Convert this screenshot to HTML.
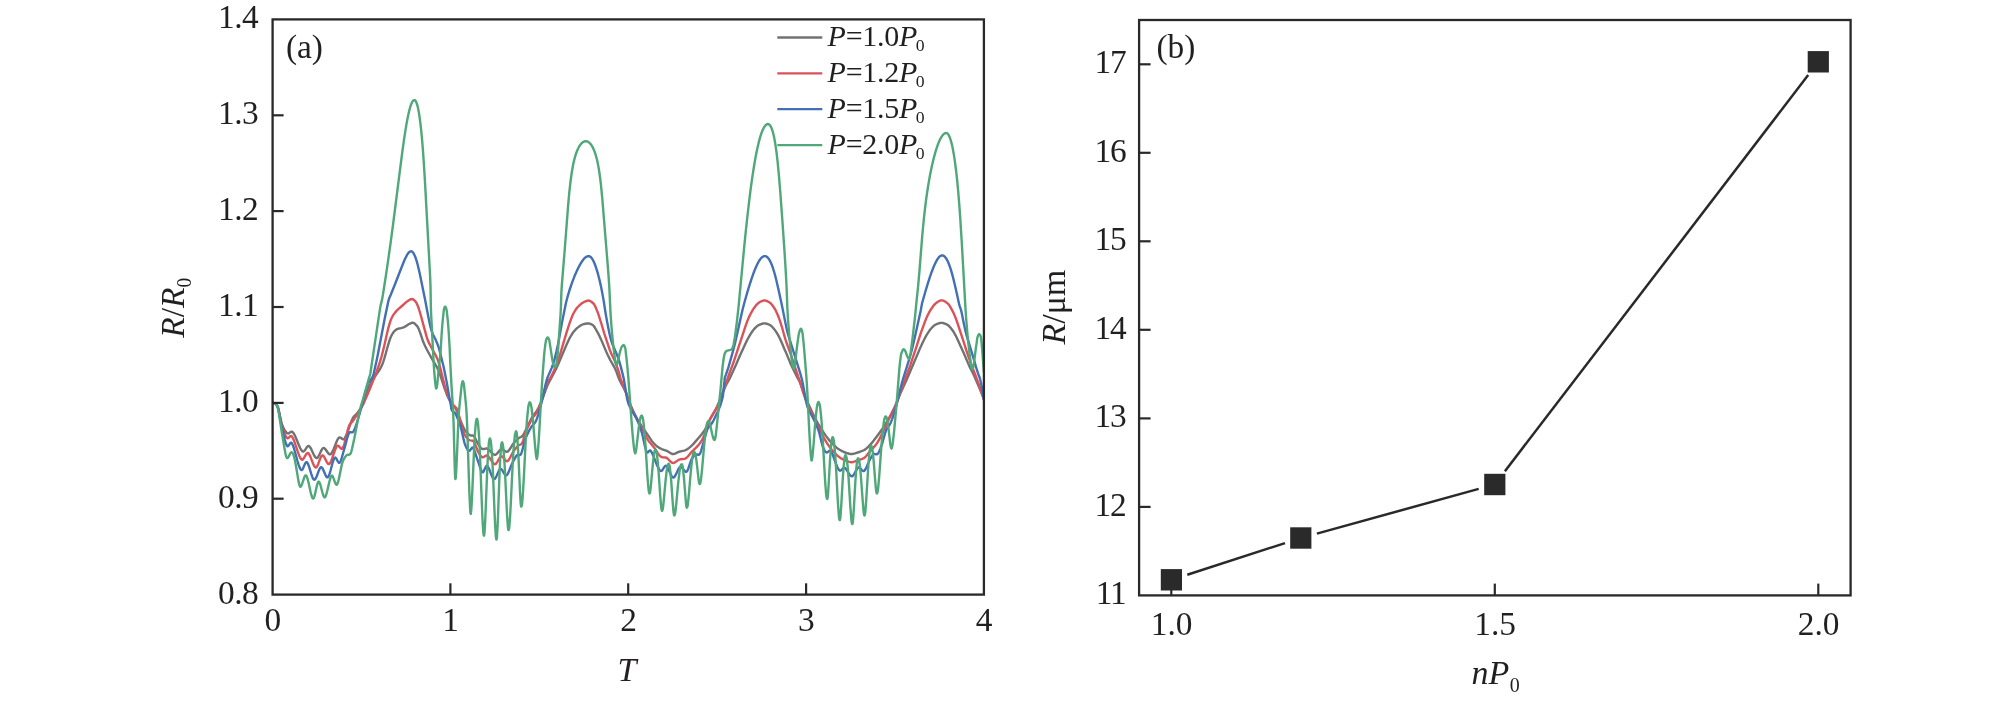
<!DOCTYPE html>
<html><head><meta charset="utf-8"><title>figure</title>
<style>html,body{margin:0;padding:0;background:#fff;}svg{display:block;opacity:0.9999;will-change:transform;}text{font-family:"Liberation Serif",serif;fill:#221f20;}.i{font-style:italic;}</style>
</head><body>
<svg width="2008" height="701" viewBox="0 0 2008 701">
<rect x="0" y="0" width="2008" height="701" fill="#ffffff"/>
<clipPath id="ca"><rect x="272.6" y="19.4" width="711.3" height="575.2"/></clipPath>
<g clip-path="url(#ca)" fill="none" stroke-width="2.4" stroke-linejoin="round" stroke-linecap="round">
<path d="M272.60,402.90l0.5,0.02l0.49,0.11l1.39,0.55l0.43,0.26l0.56,0.49l0.65,0.76l0.69,1.04l0.35,0.67l0.5,1.41l0.51,1.93l2.15,10.02l0.78,3.16l0.4,1.18l1.21,2.75l0.99,2.02l0.86,1.52l0.7,1.04l0.83,0.93l0.59,0.47l0.69,0.27l0.49,-0.03l0.47,-0.19l1.85,-1.27l0.69,-0.29l0.24,-0.04l0.49,0.09l0.43,0.25l0.54,0.52l0.46,0.6l0.54,0.84l1.14,2.22l1.18,2.76l2.41,6.03l1.22,2.74l1.09,1.98l0.58,0.81l0.51,0.55l0.4,0.3l0.46,0.18l0.49,-0.07l0.42,-0.26l0.84,-0.92l1.8,-2.71l0.6,-0.8l0.74,-0.66l0.47,-0.17l0.25,0.01l0.45,0.2l0.39,0.31l0.48,0.57l0.42,0.63l0.95,1.75l2.09,4.55l0.9,1.78l0.96,1.46l0.53,0.53l0.43,0.25l0.49,0.07l0.46,-0.2l0.38,-0.32l0.46,-0.59l1,-1.73l1.91,-4.08l0.82,-1.54l0.72,-1.02l0.36,-0.34l0.44,-0.24l0.5,-0.03l0.24,0.07l0.43,0.24l0.56,0.5l0.94,1.17l1.97,2.89l0.47,0.58l0.54,0.53l0.41,0.28l0.47,0.16l0.25,0.01l0.47,-0.16l0.58,-0.47l0.47,-0.59l0.99,-1.73l1.11,-2.51l3.05,-7.67l0.99,-2.02l0.84,-1.24l0.35,-0.35l0.43,-0.26l0.24,-0.05l0.49,0.08l0.66,0.36l1.56,1.24l0.45,0.23l0.48,0.1l0.25,-0.04l0.43,-0.24l0.51,-0.55l0.43,-0.62l0.95,-1.76l0.99,-2.29l1.06,-2.81l3.1,-8.71l0.94,-2.32l0.86,-1.81l0.63,-1.08l0.6,-0.79l0.52,-0.54l1.86,-1.67l2.49,-3.13l2.11,-3.1l1.85,-3.26l0.98,-2.02l0.43,-1.18l0.61,-2.16l1.39,-5.58l0.57,-1.92l0.67,-1.62l1.25,-2.72l2.06,-4l2.39,-4.11l3.23,-5.06l2.35,-3.23l1.06,-1.7l1.4,-2.65l1.24,-2.73l0.71,-1.87l0.85,-2.62l1.81,-6.24l2.17,-7.96l1.58,-5.01l0.76,-2.12l0.66,-1.61l1.02,-2.01l0.75,-1.3l0.71,-1.03l0.66,-0.75l1.65,-1.52l0.6,-0.46l0.64,-0.38l0.94,-0.33l2.93,-0.66l1.92,-0.57l1.17,-0.43l1.34,-0.66l2.91,-1.95l1.76,-0.95l1.63,-0.64l0.73,-0.14l0.5,-0.03l0.49,0.08l0.46,0.19l0.63,0.42l0.56,0.49l2.11,2.14l0.44,0.6l0.6,1.1l0.8,1.83l1.25,3.27l2.44,7.36l1.22,3.01l1.33,2.96l1.8,3.57l2.15,3.96l2.45,4.36l5.12,8.88l0.92,1.78l0.83,1.82l1.73,4.42l4.38,13.29l1.86,5.18l1.12,2.78l1.49,2.89l1.95,3.2l1.98,2.89l2.14,2.44l0.9,1.5l1.02,2.28l2.8,7.5l2.49,6l1.31,2.98l1.06,1.98l1.01,1.43l1.29,1.53l1.06,1.06l1.17,0.93l0.86,0.51l0.48,0.14l1.75,-0.01l0.73,0.13l0.45,0.22l0.56,0.49l0.59,0.81l0.49,0.87l2.24,4.75l0.84,1.54l2.18,3.04l0.66,0.76l0.55,0.5l0.64,0.39l0.73,0.16l0.74,-0.07l1.68,-0.49l0.74,-0.13l0.5,0.01l0.71,0.21l0.86,0.52l0.76,0.65l2.73,2.92l1.09,1.03l1.02,0.72l0.46,0.2l0.49,0.11l0.24,0.02l0.49,-0.1l0.45,-0.22l0.41,-0.29l0.89,-0.87l2.59,-3.05l0.76,-0.65l0.67,-0.33l0.74,-0.04l0.71,0.24l0.64,0.37l2.03,1.47l0.9,0.42l0.75,0.05l0.47,-0.15l0.42,-0.27l0.73,-0.68l0.91,-1.19l2.62,-4.26l0.97,-1.46l1.8,-2.07l1.93,-1.97l1.67,-1.5l0.84,-0.54l1.59,-0.73l0.65,-0.37l0.76,-0.65l0.63,-0.78l0.65,-1.06l0.71,-1.32l3.02,-6.04l3.25,-6.76l1.62,-3.1l0.64,-1.07l0.72,-1.03l2.25,-2.67l0.89,-1.21l0.9,-1.5l1.14,-2.23l1.94,-4.33l2.84,-6.95l2.85,-8l1.03,-2.55l1.88,-3.82l4.78,-8.78l2.45,-4.92l1.43,-3.2l8.61,-20.24l2.12,-4.53l1.62,-3.1l1.82,-2.99l1.45,-2.04l2.15,-2.43l1.84,-1.7l2.62,-1.91l0.85,-0.53l0.89,-0.45l0.94,-0.35l1.44,-0.43l1.22,-0.27l1.23,-0.2l1.75,-0.1l1.22,0.22l0.71,0.25l0.9,0.43l1.71,1.04l0.85,0.91l0.85,1.24l3.2,5.65l1.47,2.9l1.79,3.86l5.17,12.2l1.32,2.97l2.48,4.91l3.49,6.06l1.51,2.88l0.99,2.3l2.19,6.12l0.96,2.31l1.31,2.7l3.32,6.16l1.54,3.14l1.42,3.47l3.19,8.95l1.08,2.53l1.76,3.87l2.08,4.27l1.98,3.76l1.76,3.02l2.27,3.6l5.8,8.45l4.72,7.07l1.85,2.36l1.94,1.94l1.13,0.99l1.18,0.92l1.03,0.71l1.08,0.64l1.82,0.83l3.77,1.32l1.4,0.56l1.1,0.58l2.96,1.87l0.9,0.42l0.73,0.2l0.99,0.04l0.98,-0.19l1.17,-0.44l2.47,-1.21l1.16,-0.46l1.45,-0.4l3.18,-0.68l1.2,-0.34l1.38,-0.57l1.48,-0.93l1.18,-0.92l1.51,-1.32l1.84,-1.7l1.21,-1.26l7.65,-8.92l1.25,-1.56l1.18,-1.61l1.22,-1.89l1.08,-1.98l3.53,-7.45l1.24,-2.45l1.23,-2.18l3.34,-5.58l1.85,-3.55l1.89,-4.35l4.27,-10.95l1.85,-4.37l1.09,-2.25l2.45,-4.36l1.35,-2.68l5.86,-12.72l3.85,-8.95l5.52,-12.05l1.41,-2.93l1.85,-3.55l2.05,-3.43l2.07,-3.12l1.26,-1.56l2.26,-2.34l1.14,-0.97l1.05,-0.66l2.77,-1.16l0.96,-0.3l0.97,-0.22l0.99,-0.11l0.75,0.01l0.75,0.09l0.97,0.22l1.19,0.4l1.38,0.59l1.12,0.54l0.62,0.42l0.76,0.65l0.86,0.91l2.56,3.08l1.54,2.27l1.76,3.03l1.46,2.9l2.33,5.26l2.38,5.78l1.08,2.25l0.9,2.06l3.58,8.8l1.6,3.67l5.68,11.41l0.72,1.32l1,1.43l0.65,1.35l0.75,1.86l0.85,2.35l3.42,10.19l1.39,3.48l2.06,4l4.74,10.2l1.98,4.04l3.84,7.02l1.79,3.01l1.59,2.54l3.7,5.35l3.04,3.97l1.3,1.52l1.54,1.64l2.1,2.14l1.64,1.55l1.32,1.14l1.2,0.9l1.26,0.82l1.94,1.13l1.33,0.69l1.37,0.62l3.53,1.26l1.67,0.51l1.48,0.25l1.25,-0.01l1.48,-0.23l1.69,-0.46l4.3,-1.33l1.65,-0.57l2.76,-1.17l0.67,-0.34l0.85,-0.54l1.18,-0.92l1.46,-1.36l2.61,-2.69l1.33,-1.5l1.87,-2.34l4.38,-5.78l3.96,-5.47l3.31,-5l3.33,-5.59l2.62,-4.83l2.86,-5.84l2.17,-4.78l4.45,-10.87l6.38,-13.85l3.18,-7.62l9.55,-22.29l2.67,-5.93l2.23,-4.47l1.56,-2.85l1.58,-2.55l1.52,-2.3l1.21,-1.58l2.05,-2.19l1.49,-1.34l1.03,-0.7l2.06,-0.92l1.41,-0.51l1.2,-0.31l0.99,-0.14l1,-0.01l0.99,0.14l1.21,0.32l1.4,0.54l1.59,0.73l0.64,0.38l0.59,0.47l1.4,1.43l2.38,2.89l1.55,2.27l1.76,3.03l1.23,2.46l4.3,9.58l2.31,4.99l5.73,13.32l1.08,2.26l2.38,4.68l2.1,4.54l4.43,10.06l4.91,11.77" stroke="#727273"/>
<path d="M272.60,402.90l0.5,0.02l0.72,0.19l1.16,0.47l0.63,0.4l0.55,0.52l0.62,0.78l0.66,1.06l0.3,0.69l0.47,1.42l0.59,2.43l2.17,10.78l0.84,3.66l2.24,6.89l0.9,2.34l0.72,1.59l0.49,0.87l0.6,0.8l0.38,0.33l0.46,0.17l0.24,-0.04l0.45,-0.22l0.56,-0.5l1.22,-1.25l0.64,-0.38l0.49,-0.01l0.22,0.11l0.37,0.34l0.46,0.6l0.96,1.75l1.14,2.77l1.06,3.07l2.41,7.37l1.2,3.29l1.14,2.5l0.51,0.86l0.47,0.59l0.36,0.33l0.44,0.23l0.25,0.02l0.24,-0.06l0.43,-0.26l0.51,-0.54l0.44,-0.61l1.99,-3.47l0.72,-1.02l0.53,-0.53l0.44,-0.22l0.25,-0.03l0.46,0.16l0.38,0.33l0.46,0.59l0.96,1.75l0.87,2.07l2.07,5.37l1.04,2.27l0.66,1.07l0.5,0.55l0.42,0.27l0.24,0.06l0.25,-0.03l0.42,-0.26l0.33,-0.38l0.39,-0.63l0.45,-0.9l0.75,-1.85l1.82,-4.93l0.83,-1.81l0.54,-0.84l0.37,-0.34l0.46,-0.17l0.25,0.04l0.44,0.23l0.36,0.34l0.73,1.01l0.72,1.32l1.67,3.36l0.63,1.08l0.44,0.61l0.52,0.53l0.44,0.23l0.25,0.02l0.46,-0.16l0.38,-0.33l0.46,-0.59l0.49,-0.87l0.52,-1.13l1.07,-2.81l2.13,-6.4l0.85,-2.35l0.91,-2.06l0.79,-1.27l0.35,-0.36l0.22,-0.12l0.24,-0.05l0.48,0.1l0.42,0.28l0.36,0.35l1.62,1.9l0.38,0.32l0.44,0.24l0.49,0l0.23,-0.1l0.36,-0.34l0.28,-0.41l0.45,-0.89l0.37,-0.93l0.75,-2.39l0.83,-3.14l2.61,-10.69l0.78,-2.63l0.82,-2.1l0.63,-1.08l0.6,-0.8l2.07,-2.16l0.77,-0.98l3.19,-4.79l2.63,-4.26l2.09,-3.7l1.84,-3.55l2.04,-4.29l2.12,-4.8l3.43,-8.32l5.31,-13.5l1.69,-4.7l2.14,-6.41l1.58,-5.26l1.33,-5.08l1.69,-7.06l2.22,-10l1.79,-7.29l1.04,-3.6l0.84,-2.62l0.63,-1.63l0.96,-2.04l1.2,-2.19l0.99,-1.44l2.05,-2.52l1.75,-1.78l4.16,-3.6l2.97,-2.69l1.75,-1.41l1.63,-1.16l1.28,-0.77l1.15,-0.5l0.97,-0.23l0.73,0.12l0.86,0.51l0.92,0.85l1.37,1.45l0.44,0.61l0.36,0.65l1.22,2.75l1,2.82l1.61,5.26l4.44,16.42l1.89,6.74l0.84,2.61l0.77,1.85l0.98,2.03l2.82,5.29l2.8,5.03l1.27,2.44l1.16,2.49l0.95,2.58l0.9,2.86l0.96,3.37l3.22,13.11l1.16,4.35l1.57,5.27l1.8,5.2l0.81,2.1l0.61,1.36l0.72,1.32l0.92,1.49l2.35,3.24l0.69,0.72l1.32,1.15l0.68,0.73l0.71,1.02l0.45,0.9l0.79,2.37l2,7.75l2.62,8.87l1.17,3.56l0.54,1.4l0.51,1.14l0.89,1.51l1.01,1.42l1,1.13l1.12,0.99l0.64,0.39l0.47,0.17l1.98,0.2l0.73,0.19l0.64,0.38l0.69,0.72l0.5,0.86l0.61,1.37l2.06,5.64l0.77,1.85l0.47,0.88l1.32,2.12l0.72,1.02l0.65,0.76l0.57,0.49l0.43,0.25l0.48,0.12l0.25,-0l0.49,-0.11l0.46,-0.2l1.49,-0.91l0.68,-0.32l0.73,-0.13l0.72,0.21l0.79,0.6l0.98,1.14l2.63,3.95l1.05,1.4l0.88,0.88l0.42,0.28l0.46,0.19l0.49,0.02l0.24,-0.07l0.43,-0.26l0.52,-0.53l0.86,-1.23l1.86,-3.26l0.81,-1.26l0.47,-0.58l0.37,-0.34l0.42,-0.26l0.24,-0.07l0.25,-0.01l0.48,0.15l0.78,0.61l0.66,0.75l1.68,2.18l0.9,0.87l0.43,0.24l0.49,0.09l0.24,-0.05l0.44,-0.24l0.72,-0.69l0.73,-1.01l0.88,-1.52l2.88,-5.54l0.67,-1.06l1.68,-2.17l1.79,-2.1l1.58,-1.6l0.66,-0.35l1.21,-0.29l0.45,-0.21l0.57,-0.48l0.42,-0.62l0.64,-1.36l0.59,-1.65l2.03,-6.7l0.8,-2.36l1.3,-2.98l1.58,-3.4l1.93,-3.79l1.86,-3.26l1,-1.43l1.97,-2.26l0.76,-1l0.79,-1.27l0.87,-1.8l1.55,-3.96l2.59,-7.57l0.95,-3.11l2.28,-7.93l0.77,-2.38l0.6,-1.64l0.4,-0.92l0.48,-0.87l0.59,-0.81l1.31,-1.51l1.36,-2.39l3.13,-6.53l2.36,-5.52l1.62,-4.47l2.3,-7.14l6.01,-20.12l2.49,-7.87l1.91,-5.42l1.27,-3.26l1,-2.29l0.66,-1.35l0.88,-1.51l1.07,-1.69l0.86,-1.23l1.27,-1.54l2.49,-2.47l0.95,-0.81l0.81,-0.59l2.17,-1.22l2.07,-0.89l0.96,-0.29l0.98,-0.18l0.5,-0.01l0.73,0.14l1.14,0.52l1.41,1.03l1.68,1.5l0.71,1.02l0.82,1.55l2.23,5.3l0.95,2.58l1.09,3.33l1.78,5.73l3.16,10.53l5.21,15.66l1.6,3.94l3.62,7.69l1.5,3.71l1.1,3.06l1.02,3.08l1.75,6.26l0.6,1.91l1.26,3.53l2.78,6.97l1.13,3.05l3.88,12.14l0.62,1.64l0.69,1.61l2.07,4.27l9.54,17.3l1.25,2.45l2.57,5.42l1.21,2.19l0.82,1.25l1.05,1.4l3.56,4.19l1.24,1.58l3.27,5.03l1.16,1.62l1.17,1.3l0.59,0.46l0.66,0.37l0.47,0.17l0.73,0.17l2.98,0.28l0.72,0.21l0.67,0.33l1.17,0.94l2.25,2.35l0.72,0.68l0.81,0.6l0.68,0.3l0.49,0.08l0.5,-0.04l0.48,-0.12l0.69,-0.3l1.06,-0.65l2.44,-1.75l1.11,-0.57l0.72,-0.21l0.74,-0.13l2.5,-0.14l0.99,-0.14l1.18,-0.4l1.04,-0.67l0.75,-0.67l0.85,-0.92l3.67,-4.42l4.82,-4.73l1.88,-2.01l0.94,-1.16l1.03,-1.42l1.71,-2.76l1.15,-2.22l0.95,-2.32l0.99,-2.82l2.6,-7.84l1.35,-3.49l0.86,-1.81l1.06,-1.99l3.65,-5.97l1.56,-2.85l1.95,-4.33l2.32,-5.81l2,-5.39l2.44,-6.83l2.96,-8.76l5.23,-14.06l10.19,-30.6l2.4,-7.37l1.37,-3.76l1.62,-3.93l1.74,-3.6l2.18,-3.94l1.23,-1.88l2.6,-3.36l1.39,-1.43l1.23,-0.86l1.29,-0.77l1.11,-0.57l0.92,-0.38l0.97,-0.27l0.74,-0.09l0.75,0.01l0.74,0.13l0.95,0.32l0.9,0.41l1.31,0.74l1.48,0.94l0.58,0.47l0.69,0.73l0.93,1.17l2.22,3.33l1.1,1.96l1.16,2.49l1.82,4.39l1.42,4.01l2.01,6.44l2.16,7.96l1.04,3.35l1.6,4.73l3.57,9.88l1.79,5.2l6.24,18.74l5.03,15.98l2.54,7.32l1.48,3.72l2.58,5.69l9.93,20.2l3.98,7.51l2.49,4.33l1.08,1.69l1.44,2.04l2.75,3.57l1.48,1.69l1.75,1.78l1.98,1.91l1.5,1.32l1.2,0.9l1.48,0.93l1.96,1.12l1.56,0.78l1.39,0.56l3.09,1.01l1.22,0.26l1.25,0.02l1.23,-0.22l1.2,-0.35l3.28,-1.22l4.05,-1.3l1.16,-0.47l1.12,-0.55l0.64,-0.39l0.58,-0.47l1.22,-1.25l3.9,-4.89l3.76,-4.02l1.48,-1.69l1.37,-1.78l1.08,-1.69l1.91,-3.51l3.64,-7.4l5.95,-12.68l4.71,-9.11l0.94,-2.04l0.86,-2.08l1.28,-3.52l3.49,-10.44l4.15,-10.72l2.05,-5.91l3.17,-8.42l6.41,-19.21l3.23,-10.25l1.42,-4.27l2.53,-7.07l1.77,-4.67l1.24,-3.01l1.83,-3.83l1.54,-2.87l1.05,-1.7l2.45,-3.47l1.12,-1.34l0.91,-0.86l2.42,-1.78l0.85,-0.52l0.89,-0.44l0.95,-0.33l0.74,-0.12l0.75,0.02l0.97,0.21l0.93,0.38l1.08,0.62l1.24,0.86l1.57,1.23l0.53,0.53l0.62,0.78l1.22,1.89l2.2,3.93l1.31,2.7l1.64,3.92l1.65,4.45l5.55,16.86l4.38,13.57l2.23,6.63l1.98,5.4l4.63,11.88l1.57,4.22l3.05,8.73l3.45,10.45" stroke="#da5358"/>
<path d="M272.60,402.90l0.74,0.07l0.71,0.23l1.16,0.49l0.6,0.44l0.52,0.54l0.6,0.8l0.5,0.86l0.39,0.93l0.54,1.92l0.58,2.69l2.2,12.05l0.83,4.16l2.69,11.19l0.74,2.65l0.81,2.36l0.42,0.91l0.38,0.64l0.35,0.36l0.23,0.09l0.25,-0.02l0.22,-0.12l0.36,-0.33l1.66,-2.5l0.32,-0.39l0.4,-0.29l0.25,-0.04l0.23,0.07l0.2,0.15l0.32,0.38l0.39,0.64l0.44,0.9l0.57,1.39l1.02,3.08l3.25,11.81l1.16,3.83l1.05,2.81l0.56,1.12l0.4,0.63l0.33,0.37l0.41,0.29l0.25,0.02l0.23,-0.09l0.38,-0.32l0.42,-0.61l0.36,-0.66l1.78,-4.14l0.57,-1.11l0.59,-0.8l0.43,-0.25l0.24,0.01l0.42,0.28l0.32,0.38l0.38,0.64l0.43,0.9l1.03,2.82l2.13,6.93l0.89,2.6l0.48,1.16l0.46,0.88l0.43,0.62l0.38,0.31l0.24,0.09l0.24,-0.01l0.23,-0.09l0.55,-0.5l0.42,-0.62l0.96,-2.04l2.02,-5.38l0.78,-1.84l0.47,-0.88l0.42,-0.62l0.35,-0.36l0.45,-0.21l0.24,0.02l0.44,0.24l0.49,0.56l0.39,0.64l0.77,1.57l1.93,4.61l0.44,0.9l0.51,0.86l0.49,0.57l0.43,0.24l0.25,0.02l0.23,-0.07l0.38,-0.32l0.29,-0.41l0.45,-0.89l0.78,-2.11l0.78,-2.63l2.41,-8.93l0.72,-2.14l0.61,-1.36l0.42,-0.63l0.38,-0.31l0.24,-0.05l0.45,0.21l0.34,0.36l0.43,0.62l1.41,2.65l0.69,1.03l0.37,0.34l0.23,0.1l0.25,0l0.22,-0.09l0.34,-0.37l0.5,-0.86l0.4,-0.92l0.98,-2.83l3.6,-12.75l1.99,-7.49l0.65,-2.16l0.53,-1.4l0.58,-1.1l0.33,-0.38l0.41,-0.28l0.24,-0.08l0.49,-0.02l1.47,0.29l0.49,-0.08l0.42,-0.27l0.47,-0.58l0.6,-1.1l0.61,-1.36l0.73,-1.87l1.6,-4.73l2.2,-7.17l3.34,-12.31l3.1,-12.11l0.82,-2.88l0.76,-2.39l0.75,-1.85l0.71,-1.32l0.71,-1.03l1.9,-2.31l0.81,-1.27l0.75,-1.58l0.75,-2.12l2.97,-13.42l1.43,-6.86l6.62,-34.87l3.39,-16.15l0.51,-2.19l0.48,-1.68l0.44,-1.18l1.2,-2.74l3.57,-8.81l8.37,-21.42l1.43,-3.47l1.21,-2.74l1.57,-3.13l0.77,-1.29l0.72,-1.02l0.66,-0.75l0.76,-0.64l0.67,-0.33l0.49,-0.09l0.74,0.1l0.45,0.23l0.57,0.47l0.79,0.98l0.75,1.29l0.83,1.82l0.87,2.34l0.9,2.87l0.92,3.37l1.51,6.33l1.88,8.8l3.87,19.11l3.42,17.92l1.52,7.35l0.71,3.17l0.85,2.88l1.12,3.05l0.81,1.83l1.83,3.56l0.83,1.81l1.43,3.47l1.11,3.05l1.21,4.08l1.74,7.29l1.9,7.52l0.79,3.66l2.72,13.73l3.27,18.72l0.83,3.86l0.1,0.75l0.07,1.56l0.25,0.96l0.51,1.14l0.57,0.82l0.56,0.5l1.51,0.88l0.36,0.35l0.45,0.59l1.32,2.7l1.47,3.45l1.39,3.75l1.23,3.8l0.84,3.4l2.01,9.03l0.89,3.38l0.48,1.42l0.77,1.85l0.74,1.59l0.6,1.09l0.56,0.83l0.49,0.56l0.61,0.44l0.48,0.1l0.43,-0.23l0.35,-0.36l1.29,-1.84l0.67,-0.74l0.46,-0.17l0.24,0.05l0.38,0.32l0.66,1.05l0.77,1.85l2.46,7.61l1.34,3.77l1.82,5.45l0.91,2.33l0.43,0.9l0.39,0.64l0.31,0.39l0.41,0.28l0.25,-0.02l0.4,-0.28l0.31,-0.4l0.37,-0.65l1.44,-3.19l0.73,-1.31l0.32,-0.37l0.21,-0.15l0.23,-0.06l0.46,0.19l0.65,0.75l0.83,1.54l0.76,1.84l1.84,4.92l1,2.29l0.8,1.27l0.36,0.35l0.44,0.21l0.25,-0.01l0.45,-0.22l0.51,-0.54l0.42,-0.63l0.8,-1.55l2.34,-5.25l0.78,-1.28l0.34,-0.37l0.4,-0.29l0.48,-0.08l0.24,0.08l0.42,0.27l0.35,0.36l0.86,1.23l1.9,3.22l0.45,0.6l0.55,0.52l0.45,0.2l0.48,-0.06l0.41,-0.29l0.48,-0.58l0.64,-1.07l0.74,-1.58l2.29,-5.82l0.9,-2.06l2.51,-4.89l1.52,-2.59l0.74,-1.01l0.6,-0.44l0.48,-0.09l1.48,0.27l0.49,-0.02l0.24,-0.08l0.42,-0.27l0.59,-0.8l0.58,-1.38l0.6,-1.91l2.06,-8.25l0.74,-2.64l0.59,-1.65l1.19,-2.76l1.96,-4.05l2.22,-3.91l1.01,-1.43l2.04,-2.19l0.79,-0.97l0.81,-1.26l0.76,-1.58l0.81,-2.1l1,-3.09l2.66,-9.38l1.27,-5.35l3.09,-14.17l0.83,-3.4l0.73,-2.65l0.63,-1.9l0.62,-1.63l3.61,-8.25l1.02,-2.55l1.02,-3.09l1.3,-4.82l1.49,-6.07l1.57,-7.34l1.31,-6.87l2.87,-15.74l3.45,-17.16l0.68,-2.92l1.06,-4.12l1.02,-3.61l1.16,-3.83l2.31,-6.87l2.5,-6.54l2.58,-5.96l1.2,-2.48l1.26,-2.44l1.11,-1.96l1.18,-1.91l1.15,-1.64l0.94,-1.16l1.04,-1.09l0.96,-0.8l1.07,-0.63l0.95,-0.33l0.99,-0.08l0.49,0.08l0.69,0.3l0.61,0.43l0.54,0.52l0.63,0.78l0.57,0.82l1.09,1.97l1.22,2.74l1.14,3.04l1.23,3.81l1.22,4.33l1.23,4.84l1.23,5.36l1.16,5.63l1.85,10.09l1.77,11.61l0.71,4.19l2.27,12.04l1.18,5.63l1.28,5.09l1.08,3.59l0.98,2.57l3.75,8.73l1.11,2.78l1.35,4.03l1.53,5.29l2.32,9.21l0.72,3.17l0.79,4.42l2.18,13.33l0.5,2.7l0.4,1.7l1,3.09l1.19,2.76l1.85,3.54l3.37,5.56l1.33,2.41l1.38,2.94l1.48,3.72l1.58,4.48l1.29,4.04l0.82,3.41l2.17,10.01l0.7,2.66l0.48,1.42l0.55,1.12l0.35,0.35l0.24,0.08l0.24,-0.05l0.41,-0.29l1.13,-1.33l0.59,-0.46l0.24,-0.04l0.24,0.07l0.36,0.34l0.45,0.6l0.9,1.5l1.07,2.26l3.51,8.83l1.19,2.75l1.16,2.22l0.55,0.83l0.49,0.57l0.56,0.49l0.45,0.21l0.25,0.01l0.45,-0.19l0.38,-0.34l0.46,-0.58l1.71,-2.76l0.61,-0.8l0.36,-0.34l0.44,-0.23l0.49,0.06l0.41,0.28l0.35,0.36l0.44,0.6l0.51,0.86l0.88,1.8l1.91,4.35l0.92,1.77l0.71,1.03l0.36,0.35l0.42,0.26l0.49,0.05l0.46,-0.2l0.37,-0.32l0.48,-0.59l0.99,-1.73l1.99,-4.31l0.92,-1.78l0.85,-1.23l0.36,-0.34l0.43,-0.25l0.25,-0.04l0.48,0.1l0.43,0.26l0.37,0.33l0.66,0.75l1.77,2.42l0.88,0.89l0.43,0.25l0.49,0.09l0.24,-0.05l0.43,-0.25l0.6,-0.79l0.82,-1.82l2.21,-6.64l0.88,-2.34l0.55,-1.12l1.24,-1.88l1.28,-1.53l0.75,-0.67l0.44,-0.24l0.73,-0.11l1.72,0.32l0.5,-0l0.71,-0.24l0.39,-0.31l0.31,-0.38l0.56,-1.12l0.57,-1.65l2.57,-8.89l2.38,-8.68l0.76,-2.38l0.61,-1.64l0.65,-1.35l0.67,-1.06l0.78,-0.97l2.02,-2.22l0.58,-0.81l0.64,-1.08l1.17,-2.21l1.43,-2.91l2.45,-5.2l1.3,-2.98l1.16,-3.04l1.01,-3.09l1,-3.61l0.8,-3.41l0.09,-0.74l0,-1.27l0.41,-3.21l0.59,-5.95l0.59,-4.19l-0.14,-1.04l0.09,-0.74l0.36,-1.2l0.97,-2.57l1.45,-4.26l1.22,-3.81l2.95,-10.34l1.91,-6.99l1.42,-5.58l1.22,-5.1l6.5,-29.29l2.26,-8.45l2.54,-8.9l2.55,-8.37l2.37,-7.11l2.17,-5.87l2.04,-4.83l0.98,-2.02l1.07,-1.98l0.92,-1.49l0.87,-1.22l0.81,-0.95l0.92,-0.86l0.82,-0.56l0.92,-0.39l0.74,-0.12l0.5,0.01l0.72,0.17l0.68,0.33l0.61,0.43l0.72,0.69l0.65,0.76l0.57,0.82l0.65,1.07l0.7,1.33l1.21,2.74l1.21,3.29l1.34,4.29l1.06,3.86l1.1,4.36l2.68,11.7l2.62,11.96l3.46,17.41l1.44,6.86l0.83,3.65l1.22,4.33l1.84,5.71l7.99,25.53l1.83,5.98l1.02,3.61l0.73,2.91l0.73,3.42l3.37,17.93l0.78,3.42l0.71,2.39l0.8,2.11l1.04,2.27l0.94,1.77l2.25,3.89l1.02,2l2.6,5.69l1.54,3.69l0.87,2.34l0.65,2.16l2.32,9.47l0.78,2.89l0.63,1.9l1.04,2.28l0.6,1.09l0.55,0.83l0.49,0.57l0.62,0.42l0.48,0.08l0.47,-0.16l1.79,-1.36l0.45,-0.2l0.25,-0.05l0.25,0.03l0.43,0.23l0.68,0.73l0.89,1.51l1.02,2.28l3.15,8.7l1.22,3.01l0.55,1.12l0.5,0.87l0.44,0.6l0.54,0.52l0.45,0.22l0.24,0.03l0.49,-0.11l0.81,-0.58l1.42,-1.41l0.58,-0.47l0.45,-0.21l0.25,-0.04l0.48,0.08l0.43,0.26l0.38,0.33l0.81,0.94l0.84,1.25l1.97,3.19l0.88,1.21l0.88,0.89l0.43,0.25l0.48,0.13l0.49,-0.06l0.43,-0.26l0.37,-0.33l0.48,-0.58l0.94,-1.47l1.79,-3.3l0.77,-1.28l0.75,-1l0.36,-0.35l0.41,-0.27l0.48,-0.11l0.25,0.05l0.44,0.23l0.74,0.67l1.42,1.74l0.7,0.72l0.63,0.39l0.24,0.06l0.49,-0.09l0.41,-0.29l0.34,-0.36l0.45,-0.6l0.51,-0.85l1,-2.02l2.15,-5.06l0.84,-1.82l0.59,-1.1l1.05,-1.7l1.26,-1.87l0.83,-0.93l0.63,-0.4l0.24,-0.07l0.5,-0.01l1.71,0.35l0.49,-0.06l0.45,-0.22l0.38,-0.32l0.46,-0.59l0.52,-0.86l0.56,-1.11l1.17,-2.76l1.41,-3.75l0.86,-2.87l2.11,-7.72l1.01,-3.09l0.58,-1.38l0.58,-1.11l0.67,-1.05l1.92,-2.62l0.63,-1.08l0.63,-1.36l1.01,-2.56l0.99,-2.83l1.14,-3.57l1.43,-4.8l1.54,-5.8l3.31,-13.6l2,-7.48l1.55,-5.28l5.16,-16.46l1.62,-5.52l1.18,-4.34l2.46,-10.21l5.88,-26.35l0.56,-2.69l1.4,-7.62l3.12,-11.07l2.67,-8.86l1.93,-5.95l1.81,-5.19l1.79,-4.66l1.59,-3.68l1.57,-3.12l1.45,-2.34l0.6,-0.8l0.67,-0.74l0.74,-0.67l0.63,-0.4l0.7,-0.29l0.74,-0.11l0.74,0.09l0.47,0.17l0.65,0.36l0.78,0.64l0.67,0.73l0.6,0.8l0.67,1.05l0.73,1.32l1.24,2.73l1.23,3.27l1.31,4.05l1.55,5.53l1.75,7.04l1.79,7.8l2.94,13.43l0.41,1.44l1.22,3.55l0.59,2.17l2.52,12.49l1.3,5.86l1.01,4.13l1.1,3.85l4.86,16.03l3.78,12.96l2.05,6.43l1.58,4.21l0.69,2.4l0.73,3.17l0.76,3.93l2.11,12.57" stroke="#4270b3"/>
<path d="M272.60,402.90l0.74,0.04l1.4,0.54l0.66,0.36l0.55,0.51l0.6,0.8l0.61,1.08l0.4,0.92l0.43,1.44l0.42,1.95l0.67,3.94l2.56,16.81l2.97,17.75l0.83,4.42l0.75,2.91l0.25,0.7l0.34,0.67l0.37,0.33l0.24,0.03l0.43,-0.24l0.47,-0.59l0.49,-0.87l1.45,-2.91l0.4,-0.63l0.33,-0.37l0.44,-0.22l0.48,0.14l0.56,0.49l0.57,0.81l0.39,0.93l0.62,1.9l0.73,2.9l1.07,5.65l2.8,16.77l0.77,3.16l0.35,0.93l0.38,0.65l0.19,0.15l0.23,0.01l0.2,-0.14l0.46,-0.6l0.33,-0.67l0.72,-1.86l1.71,-5.23l0.44,-1.17l0.44,-0.9l0.27,-0.42l0.36,-0.34l0.23,-0.08l0.24,0.04l0.2,0.14l0.43,0.61l0.41,0.91l0.82,2.62l0.77,3.16l2.04,9.28l0.97,3.62l0.41,1.18l0.41,0.91l0.46,0.59l0.21,0.12l0.24,-0.01l0.2,-0.14l0.29,-0.4l0.62,-1.64l0.64,-2.42l1.49,-6.83l0.66,-2.67l0.64,-1.9l0.36,-0.65l0.18,-0.18l0.23,-0.08l0.23,0.06l0.2,0.16l0.29,0.4l0.44,0.9l0.86,2.61l1.78,6.77l0.8,2.63l0.36,0.93l0.35,0.66l0.3,0.4l0.19,0.15l0.24,0.05l0.23,-0.08l0.19,-0.17l0.42,-0.62l0.5,-1.14l0.39,-1.19l0.91,-3.38l1.79,-7.79l0.74,-2.91l0.57,-1.92l0.35,-0.93l0.43,-0.9l0.3,-0.41l0.18,-0.16l0.24,-0.07l0.23,0.07l0.36,0.34l0.28,0.41l0.71,1.6l1.69,4.71l0.41,0.91l0.4,0.63l0.36,0.34l0.24,0.06l0.23,-0.07l0.19,-0.17l0.39,-0.64l0.61,-1.64l0.59,-2.17l0.71,-3.17l2.32,-11.26l0.74,-2.91l0.58,-1.65l0.88,-1.8l0.73,-1.3l0.83,-1.26l0.78,-0.97l0.54,-0.52l0.43,-0.25l0.48,-0.13l1.5,-0.09l0.68,-0.3l0.37,-0.33l0.44,-0.61l0.62,-1.63l0.88,-3.39l2.2,-10.01l4.17,-21.6l0.92,-4.41l0.78,-3.41l1.03,-3.86l1.98,-6.46l2.8,-9.6l2.85,-10.62l0.98,-2.84l0.45,-1.69l9.36,-62.54l1.01,-6.17l1.27,-4.83l1.02,-5.66l2.73,-17.54l2.39,-16.07l2.47,-17.58l2.54,-19.08l8.86,-69.69l1.92,-13.87l1.69,-11.12l1.21,-7.15l1.18,-6.14l1.13,-5.12l1.11,-4.11l0.61,-1.9l0.62,-1.64l0.99,-2.01l0.44,-0.61l0.49,-0.56l0.65,-0.38l0.49,-0.09l0.24,0.05l0.43,0.24l0.5,0.56l0.62,1.08l0.55,1.4l0.6,1.91l0.49,1.93l0.96,4.91l1.14,7.66l1.01,8.44l0.99,10.2l0.97,11.96l1.05,15.22l1.14,18.96l5.04,92.62l0.34,8.99l0.3,18.25l0.24,7.99l2.4,46.19l0.52,8.98l0.51,6.98l0.74,8.22l0.55,3.96l0.24,1.23l0.19,0.46l0.21,-0.1l0.19,-0.46l0.22,-0.98l0.33,-1.97l0.24,-1.98l1.63,-16.67l1,-8.69l0.4,-4.23l0.33,-4.48l0.76,-12.98l0.59,-8.23l0.64,-7.47l1.03,-9.69l0.25,-1.48l0.34,-1.2l0.38,-0.93l0.31,-0.37l0.23,0.04l0.32,0.38l0.63,1.63l0.35,1.2l0.17,0.98l0.92,8.46l0.49,5.47l0.56,7.73l0.82,13.47l0.88,19.48l1.05,19.72l1.66,25.7l0.49,12.99l1.04,40.98l0.33,9.75l0.23,3.74l0.16,0.73l0.22,-0.53l0.22,-1.74l0.31,-4.24l0.68,-13.48l1.49,-36.22l0.35,-6.74l0.37,-5.23l0.65,-6.97l1.94,-18.4l0.4,-2.21l0.39,-1.45l0.21,-0.45l0.21,-0.12l0.19,0.16l0.36,0.93l0.25,0.97l0.33,1.71l0.17,1.24l1.65,16.17l0.46,5.48l0.36,5.48l0.38,7.74l0.44,11.25l1.49,46.22l0.55,15.49l0.68,14.23l0.27,3.75l0.18,1.48l0.06,0.23l0.17,0.05l0.36,-2.98l0.27,-3.49l0.47,-7.74l0.55,-11.73l1.52,-36.72l0.49,-9.74l0.45,-7.48l0.73,-9.22l0.26,-2.49l0.32,-1.72l0.39,-1.45l0.12,-0.21l0.19,-0.07l0.14,0.18l0.31,0.95l0.21,0.98l0.43,2.71l0.72,8.72l0.42,6.23l0.48,9.24l0.52,11.49l1.68,44.47l0.66,15.48l0.74,12.48l0.38,2.98l0.16,0.73l0.16,0.18l0.1,-0.13l0.18,-0.73l0.33,-2.73l0.64,-10.98l0.53,-12.24l1.4,-36.47l0.83,-16.98l0.95,-12.71l0.16,-1.24l0.33,-1.72l0.18,-0.73l0.19,-0.46l0.19,-0.09l0.25,0.4l0.38,1.45l0.35,1.97l0.27,2.74l0.78,9.96l0.47,7.99l0.51,10.48l1.55,37.97l0.58,12.74l0.72,11.73l0.23,1.98l0.16,0.99l0.19,0.72l0.21,-0.09l0.4,-2.72l0.62,-11.23l0.5,-12.49l1.31,-36.98l0.77,-16.98l0.84,-12.22l0.21,-1.74l0.32,-1.72l0.19,-0.72l0.11,-0.22l0.17,-0.11l0.17,0.18l0.39,1.19l0.37,1.71l0.36,2.98l0.74,8.46l0.45,6.74l0.51,8.98l1.58,33.46l0.55,10.49l0.71,10.22l0.3,2.23l0.22,0.98l0.15,0.2l0.12,-0.04l0.18,-0.47l0.34,-1.71l0.16,-1.24l0.79,-10.97l0.69,-12.73l1.76,-36.96l0.53,-9.49l0.51,-7.73l0.39,-4.73l0.83,-8.46l0.37,-1.97l0.55,-1.91l0.29,-0.39l0.19,0.11l0.37,1.18l0.29,1.48l0.3,2.73l0.57,7.48l0.74,13.23l1.59,35.96l0.57,9.48l0.13,1.5l0.36,1.96l0.13,0.15l0.16,-0.13l0.16,-0.47l0.46,-2.46l0.27,-2.74l0.65,-8.72l0.8,-13.73l2.02,-39.7l0.59,-9.98l0.56,-7.98l0.46,-5.22l0.89,-8.46l0.31,-1.72l0.6,-2.17l0.18,-0.46l0.14,-0.21l0.19,-0.15l0.21,0.07l0.42,0.61l0.45,1.17l0.19,0.72l0.6,3.45l0.89,7.45l0.47,4.72l1.91,23.17l0.89,9.46l0.43,3.22l0.37,1.96l0.24,0.71l0.22,-0.45l0.37,-2.22l0.31,-2.73l1.03,-13.21l0.8,-13.22l1.88,-33.95l0.95,-14.72l1.72,-22.93l0.41,-4.23l0.52,-4.18l0.29,-2.77l0.67,-3.69l0.24,-0.97l0.35,-0.94l0.65,-1.06l0.39,-0.29l0.25,0.05l0.2,0.14l0.3,0.4l0.34,0.66l0.37,0.93l0.44,1.69l2.78,18.04l0.68,3.43l0.63,2.42l0.35,0.93l0.37,0.66l0.32,0.38l0.21,0.13l0.25,0.02l0.2,-0.12l0.15,-0.2l0.32,-0.68l0.45,-1.43l0.36,-1.45l1.08,-9.44l0.64,-6.97l2.22,-31.92l0.36,-6.99l0.49,-15.24l0.49,-7.98l2.81,-34.39l3.6,-46.61l1.11,-12.2l1.1,-9.93l1.23,-8.92l1.24,-7.14l0.72,-3.43l0.76,-3.16l0.8,-2.89l0.75,-2.38l0.85,-2.35l0.97,-2.31l1.01,-2.01l1.03,-1.71l1.2,-1.6l1.05,-1.06l1,-0.75l1.11,-0.57l1.22,-0.27l1,0.04l1.2,0.32l1.29,0.77l1.27,1.19l0.94,1.17l1.09,1.68l1.04,1.99l0.99,2.3l0.78,2.11l0.83,2.62l0.92,3.38l0.79,3.41l0.68,3.43l0.64,3.69l0.68,4.45l0.73,5.45l0.65,5.46l1.32,13.44l5.59,68.52l0.92,12.22l0.6,9.23l0.93,20.23l0.34,6.24l0.52,7.48l0.73,9.22l0.85,9.21l1,9.19l1,7.94l0.86,5.18l0.36,1.46l0.29,0.68l0.19,0.12l0.21,-0.14l0.37,-0.64l0.55,-1.66l0.87,-3.39l1.32,-6.37l0.35,-1.46l0.92,-2.85l0.37,-0.93l0.47,-0.88l0.44,-0.61l0.5,-0.56l0.39,-0.3l0.46,-0.18l0.23,0.08l0.19,0.16l0.28,0.41l0.42,0.91l0.43,1.17l0.29,1.47l0.52,5.02l0.56,4.67l1.24,12.69l0.73,8.72l2.93,39.89l0.98,12.46l0.62,6.72l0.83,7.7l0.32,2.49l0.36,1.96l0.41,1.45l0.13,0.21l0.14,0.03l0.15,-0.21l0.21,-0.71l0.56,-2.7l0.31,-2.22l2.03,-17.64l1.01,-7.68l0.38,-2.21l0.52,-2.2l0.23,-0.71l0.31,-0.68l0.44,-0.6l0.22,-0.11l0.22,0.09l0.26,0.42l0.67,1.89l0.38,1.96l0.95,8.2l0.39,3.97l0.97,12.72l2.12,33.18l0.82,9.96l0.42,3.48l0.36,1.45l0.18,0.47l0.21,0.11l0.24,-0.42l0.16,-0.47l0.21,-0.98l0.53,-4.22l2.06,-22.9l1.02,-9.19l0.44,-2.72l0.43,-1.69l0.55,-1.12l0.18,-0.17l0.23,0.07l0.16,0.19l0.21,0.45l0.41,1.19l0.36,1.71l0.3,2.23l0.77,7.21l0.73,8.71l1.59,23.2l0.82,10.21l0.45,3.98l0.34,1.46l0.19,0.46l0.2,0.04l0.14,-0.2l0.33,-0.94l0.28,-1.47l0.31,-2.23l0.91,-9.2l1.48,-16.44l1.2,-10.43l0.4,-2.46l0.38,-1.71l0.35,-0.94l0.34,-0.66l0.16,-0.2l0.21,-0.1l0.2,0.12l0.33,0.67l0.44,1.43l0.44,2.97l1.13,11.69l1.42,20.2l0.77,9.72l0.42,3.47l0.33,1.2l0.12,0.2l0.2,-0.03l0.24,-0.43l0.3,-0.96l0.24,-1.22l0.34,-2.48l0.98,-9.45l1.74,-18.92l1.3,-10.92l0.4,-2.46l0.41,-1.96l0.22,-0.72l0.4,-0.91l0.41,-0.63l0.21,-0.11l0.21,0.1l0.15,0.2l0.38,0.92l0.2,0.73l0.37,2.22l1.12,10.94l1.91,23.92l0.42,3.22l0.2,0.72l0.22,0.43l0.21,-0.11l0.37,-0.92l0.18,-0.73l0.28,-1.73l0.3,-2.48l0.91,-9.45l1.63,-19.44l0.75,-7.46l0.98,-7.93l0.39,-2.22l0.16,-0.73l0.31,-0.95l0.3,-0.69l0.38,-0.65l0.19,-0.15l0.24,0.03l0.31,0.39l0.34,0.67l0.52,1.93l0.48,2.7l0.9,7.2l1.79,15.64l0.29,1.73l0.22,0.97l0.29,0.69l0.18,0.15l0.18,-0.11l0.32,-0.67l0.35,-1.2l0.52,-3.46l1.06,-10.19l1.84,-21.42l0.9,-9.21l1.25,-9.92l0.52,-2.95l0.5,-1.94l0.61,-1.37l0.3,-0.39l0.2,-0.14l0.24,0l0.21,0.14l0.42,0.61l0.46,1.16l0.62,2.17l2.19,9.75l0.56,2.18l0.38,1.19l0.51,1.14l0.31,0.39l0.22,0.11l0.24,-0.05l0.17,-0.18l0.4,-1.18l0.34,-1.72l0.28,-1.98l1.11,-9.93l3.55,-34.82l2.04,-22.66l0.96,-7.68l0.37,-2.22l0.55,-2.7l0.42,-1.44l0.71,-1.32l0.56,-0.82l0.36,-0.35l0.22,-0.12l4.6,-1.16l0.21,-0.13l0.33,-0.37l0.6,-1.09l0.6,-1.38l0.46,-1.69l1.02,-5.4l0.93,-6.18l1.43,-11.16l1.7,-15.4l5.42,-57.5l1.8,-17.91l1.68,-15.66l1.67,-14.4l1.62,-12.9l1.66,-11.89l1.64,-10.62l1.55,-8.87l1.61,-8.09l1.58,-6.82l1.6,-5.78l0.77,-2.38l0.85,-2.35l0.88,-2.07l0.78,-1.56l0.76,-1.3l0.89,-1.2l0.91,-0.86l0.64,-0.39l0.96,-0.27l0.25,-0l0.48,0.11l0.66,0.34l0.85,0.91l0.79,1.28l0.54,1.13l0.64,1.63l0.76,2.38l0.64,2.41l0.61,2.68l1.17,6.4l1.25,8.65l1.11,9.44l1.29,13.44l1.43,17.44l2.11,28.67l2.04,29.43l1.01,15.97l0.8,14.23l0.48,10.23l0.68,18.49l0.64,10.73l1.15,14.46l1.27,13.94l0.76,7.2l0.85,6.95l0.3,1.98l0.61,2.68l0.34,0.94l0.13,0.21l0.2,0.07l0.17,-0.16l0.35,-0.94l0.43,-1.95l0.37,-2.22l2.26,-18.36l1.44,-10.15l0.47,-1.94l0.48,-1.68l0.34,-0.94l0.43,-0.9l0.34,-0.37l0.23,-0.07l0.2,0.13l0.26,0.43l0.36,0.93l0.46,1.69l0.36,1.71l0.98,9.19l0.91,10.46l1.8,22.68l0.54,7.98l0.53,8.99l1.83,36.7l0.7,12.73l0.88,12.47l0.27,2.74l0.32,2.22l0.21,0.72l0.22,-0.32l0.41,-2.21l0.42,-3.23l0.88,-9.71l1.92,-24.67l0.48,-4.97l0.86,-7.45l0.47,-2.97l0.16,-0.73l0.39,-1.19l0.31,-0.68l0.3,-0.4l0.23,-0l0.3,0.4l0.28,0.69l0.42,1.44l0.41,1.96l0.99,8.94l0.53,5.97l1.12,16.47l2.42,42.93l0.93,12.21l0.38,3.48l0.44,1.95l0.18,0.46l0.18,0.11l0.19,-0.46l0.17,-0.73l0.22,-1.48l0.28,-3.24l0.55,-8.23l1.4,-24.71l0.73,-10.47l0.62,-6.98l0.41,-3.22l0.38,-1.45l0.26,-0.7l0.14,-0.2l0.22,0l0.14,0.2l0.29,0.7l0.21,0.72l0.46,2.19l1.14,11.44l0.96,14.22l1.62,30.46l0.58,9.73l0.79,10.22l0.42,2.46l0.16,0.48l0.13,0.18l0.16,-0.08l0.08,-0.24l0.29,-1.21l0.22,-1.74l0.23,-2.74l0.72,-10.72l1.46,-25.71l0.69,-9.72l0.64,-6.97l0.29,-2.49l0.34,-1.72l0.37,-1.19l0.24,-0.43l0.23,-0l0.16,0.19l0.21,0.45l0.39,1.19l0.24,0.97l0.41,2.97l0.72,6.97l0.85,10.71l1.75,28.19l0.82,10.97l0.4,3.98l0.36,1.71l0.17,0.47l0.14,0.14l0.16,-0.17l0.39,-1.7l0.4,-4.23l0.72,-10.73l1.45,-25.96l0.7,-9.97l0.63,-6.97l0.31,-2.73l0.35,-1.72l0.48,-1.41l0.14,-0.21l0.23,0.04l0.16,0.19l0.23,0.45l0.33,0.94l0.38,1.7l0.35,2.48l0.81,7.46l0.44,4.97l1.72,23.69l0.8,9.72l0.33,2.98l0.21,1.23l0.27,0.96l0.1,0.23l0.17,0.13l0.14,-0.16l0.17,-0.47l0.34,-1.71l0.4,-3.99l0.8,-11.21l1.68,-27.95l0.76,-10.22l1.02,-9.95l0.36,-1.96l0.45,-1.44l0.35,-0.65l0.23,0.01l0.17,0.18l0.23,0.45l0.34,0.94l0.23,0.97l0.42,2.72l1.14,10.94l1.36,17.44l0.77,8.97l0.32,2.73l0.21,1.23l0.21,0.72l0.21,0.44l0.21,-0.04l0.13,-0.22l0.44,-1.43l0.27,-1.47l0.29,-2.49l1.08,-11.95l2.02,-28.17l0.93,-11.47l0.6,-5.96l0.95,-7.69l0.34,-2.23l0.33,-1.46l0.61,-1.64l0.35,-0.66l0.19,-0.17l0.24,-0.02l0.35,0.35l0.46,0.88l0.22,0.72l0.51,2.19l0.36,2.22l1.06,8.18l1.49,12.66l0.34,2.22l0.37,1.72l0.21,0.71l0.13,0.22l0.15,0.07l0.15,-0.2l0.4,-1.18l0.41,-1.96l0.38,-2.47l0.93,-7.94l0.57,-5.47l2.38,-26.39l2.73,-34.9l0.54,-5.22l0.71,-5.7l0.39,-2.47l0.5,-1.93l1.13,-2.51l0.27,-0.42l0.33,-0.37l0.22,-0.11l0.24,0.02l0.23,0.1l0.37,0.33l0.32,0.38l0.66,1.07l0.5,1.14l1.17,3.3l0.61,1.37l0.74,1.3l0.35,0.36l0.22,0.08l0.19,-0.12l0.14,-0.21l0.5,-1.41l0.66,-2.67l0.32,-1.97l1.64,-12.39l2.74,-23.85l1.47,-15.17l1.42,-13.43l1.33,-14.94l2.94,-36.63l0.88,-9.71l0.87,-8.71l0.96,-8.69l1.05,-8.44l1.14,-8.17l1.19,-7.66l1.65,-9.35l1.79,-8.82l1.9,-8.03l1.92,-6.99l0.98,-3.1l0.97,-2.84l0.88,-2.34l1.08,-2.53l0.98,-2.02l0.87,-1.52l0.83,-1.25l1.12,-1.34l0.97,-0.79l0.42,-0.27l0.46,-0.19l0.98,-0.21l0.49,0.07l0.46,0.19l0.41,0.29l0.34,0.36l0.73,1.01l0.8,1.56l0.82,2.09l0.76,2.38l0.77,2.9l0.72,3.17l0.72,3.68l0.73,4.19l0.72,4.69l1.42,10.66l1.1,9.93l1.04,10.96l1.01,12.2l0.99,13.72l1.51,23.95l3.78,67.39l0.63,9.23l1.25,15.45l0.94,9.71l1.25,10.92l1.51,11.15l0.54,2.44l0.39,1.19l0.25,0.43l0.2,0.12l0.21,-0.13l0.23,-0.44l0.3,-0.95l0.39,-1.71l0.26,-1.47l0.62,-5.26l1.5,-11.36l0.73,-4.9l0.56,-4.51l0.53,-1.92l0.61,-1.37l0.28,-0.41l0.37,-0.33l0.24,-0.06l0.23,0.07l0.5,0.56l0.75,1.57l0.26,0.97l0.14,0.99l0.97,10.2l1.79,23.43" stroke="#50a779"/>
</g>
<rect x="272.6" y="19.4" width="711.3" height="575.2" fill="none" stroke="#2a2829" stroke-width="2.3"/>
<line x1="272.6" y1="115.3" x2="283.6" y2="115.3" stroke="#2a2829" stroke-width="2.2"/>
<line x1="272.6" y1="211.1" x2="283.6" y2="211.1" stroke="#2a2829" stroke-width="2.2"/>
<line x1="272.6" y1="307.0" x2="283.6" y2="307.0" stroke="#2a2829" stroke-width="2.2"/>
<line x1="272.6" y1="402.9" x2="283.6" y2="402.9" stroke="#2a2829" stroke-width="2.2"/>
<line x1="272.6" y1="498.7" x2="283.6" y2="498.7" stroke="#2a2829" stroke-width="2.2"/>
<line x1="450.4" y1="594.6" x2="450.4" y2="583.3000000000001" stroke="#2a2829" stroke-width="2.2"/>
<line x1="628.2" y1="594.6" x2="628.2" y2="583.3000000000001" stroke="#2a2829" stroke-width="2.2"/>
<line x1="806.1" y1="594.6" x2="806.1" y2="583.3000000000001" stroke="#2a2829" stroke-width="2.2"/>
<text x="258.2" y="28.3" font-size="33.4" letter-spacing="-0.5" text-anchor="end">1.4</text>
<text x="258.2" y="124.2" font-size="33.4" letter-spacing="-0.5" text-anchor="end">1.3</text>
<text x="258.2" y="220.0" font-size="33.4" letter-spacing="-0.5" text-anchor="end">1.2</text>
<text x="258.2" y="315.9" font-size="33.4" letter-spacing="-0.5" text-anchor="end">1.1</text>
<text x="258.2" y="411.8" font-size="33.4" letter-spacing="-0.5" text-anchor="end">1.0</text>
<text x="258.2" y="507.6" font-size="33.4" letter-spacing="-0.5" text-anchor="end">0.9</text>
<text x="258.2" y="603.5" font-size="33.4" letter-spacing="-0.5" text-anchor="end">0.8</text>
<text x="272.9" y="631.2" font-size="33.4" text-anchor="middle">0</text>
<text x="450.7" y="631.2" font-size="33.4" text-anchor="middle">1</text>
<text x="628.5" y="631.2" font-size="33.4" text-anchor="middle">2</text>
<text x="806.4" y="631.2" font-size="33.4" text-anchor="middle">3</text>
<text x="984.2" y="631.2" font-size="33.4" text-anchor="middle">4</text>
<text x="285.9" y="58.3" font-size="33.4">(a)</text>
<text x="617.5" y="681.4" font-size="34" class="i">T</text>
<text transform="translate(184.3,337.8) rotate(-90) scale(0.965,1)" font-size="34.7"><tspan class="i">R</tspan>/<tspan class="i">R</tspan><tspan font-size="20" dy="6.5">0</tspan></text>
<line x1="777.3" y1="37.5" x2="822.3" y2="37.5" stroke="#727273" stroke-width="2.3"/>
<text x="827.6" y="46.1" font-size="30" letter-spacing="-0.28"><tspan class="i">P</tspan>=1.0<tspan class="i">P</tspan><tspan font-size="17.7" dx="-1.2" dy="5">0</tspan></text>
<line x1="777.3" y1="73.4" x2="822.3" y2="73.4" stroke="#da5358" stroke-width="2.3"/>
<text x="827.6" y="82.0" font-size="30" letter-spacing="-0.28"><tspan class="i">P</tspan>=1.2<tspan class="i">P</tspan><tspan font-size="17.7" dx="-1.2" dy="5">0</tspan></text>
<line x1="777.3" y1="109.2" x2="822.3" y2="109.2" stroke="#4270b3" stroke-width="2.3"/>
<text x="827.6" y="117.8" font-size="30" letter-spacing="-0.28"><tspan class="i">P</tspan>=1.5<tspan class="i">P</tspan><tspan font-size="17.7" dx="-1.2" dy="5">0</tspan></text>
<line x1="777.3" y1="145.1" x2="822.3" y2="145.1" stroke="#50a779" stroke-width="2.3"/>
<text x="827.6" y="153.7" font-size="30" letter-spacing="-0.28"><tspan class="i">P</tspan>=2.0<tspan class="i">P</tspan><tspan font-size="17.7" dx="-1.2" dy="5">0</tspan></text>
<rect x="1139.1" y="20.0" width="711.5" height="575.4" fill="none" stroke="#2a2829" stroke-width="2.3"/>
<line x1="1139.1" y1="506.9" x2="1150.6" y2="506.9" stroke="#2a2829" stroke-width="2.2"/>
<line x1="1139.1" y1="418.4" x2="1150.6" y2="418.4" stroke="#2a2829" stroke-width="2.2"/>
<line x1="1139.1" y1="329.8" x2="1150.6" y2="329.8" stroke="#2a2829" stroke-width="2.2"/>
<line x1="1139.1" y1="241.3" x2="1150.6" y2="241.3" stroke="#2a2829" stroke-width="2.2"/>
<line x1="1139.1" y1="152.8" x2="1150.6" y2="152.8" stroke="#2a2829" stroke-width="2.2"/>
<line x1="1139.1" y1="64.3" x2="1150.6" y2="64.3" stroke="#2a2829" stroke-width="2.2"/>
<line x1="1171.3" y1="595.4" x2="1171.3" y2="583.6" stroke="#2a2829" stroke-width="2.2"/>
<line x1="1494.8" y1="595.4" x2="1494.8" y2="583.6" stroke="#2a2829" stroke-width="2.2"/>
<line x1="1818.3" y1="595.4" x2="1818.3" y2="583.6" stroke="#2a2829" stroke-width="2.2"/>
<text x="1125.4" y="604.1" font-size="33.4" letter-spacing="-1.2" text-anchor="end">11</text>
<text x="1125.4" y="515.6" font-size="33.4" letter-spacing="-1.2" text-anchor="end">12</text>
<text x="1125.4" y="427.1" font-size="33.4" letter-spacing="-1.2" text-anchor="end">13</text>
<text x="1125.4" y="338.5" font-size="33.4" letter-spacing="-1.2" text-anchor="end">14</text>
<text x="1125.4" y="250.0" font-size="33.4" letter-spacing="-1.2" text-anchor="end">15</text>
<text x="1125.4" y="161.5" font-size="33.4" letter-spacing="-1.2" text-anchor="end">16</text>
<text x="1125.4" y="73.0" font-size="33.4" letter-spacing="-1.2" text-anchor="end">17</text>
<text x="1171.6" y="635.3" font-size="33.4" text-anchor="middle">1.0</text>
<text x="1495.1" y="635.3" font-size="33.4" text-anchor="middle">1.5</text>
<text x="1818.6" y="635.3" font-size="33.4" text-anchor="middle">2.0</text>
<text x="1156.4" y="57.8" font-size="33.4">(b)</text>
<text x="1471.4" y="683.8" font-size="34"><tspan class="i">nP</tspan><tspan font-size="20" dx="0.5" dy="8">0</tspan></text>
<text transform="translate(1064.8,344.6) rotate(-90)" font-size="34"><tspan class="i">R</tspan>/μm</text>
<line x1="1187.3" y1="574.7" x2="1285.0" y2="543.1" stroke="#2a2829" stroke-width="2.5"/>
<line x1="1316.9" y1="533.6" x2="1478.7" y2="488.9" stroke="#2a2829" stroke-width="2.5"/>
<line x1="1504.9" y1="471.2" x2="1808.2" y2="75.1" stroke="#2a2829" stroke-width="2.5"/>
<rect x="1160.8" y="569.1" width="21.2" height="21.4" fill="#2b2a2b"/>
<rect x="1290.2" y="527.3" width="21.2" height="21.4" fill="#2b2a2b"/>
<rect x="1484.2" y="473.8" width="21.2" height="21.4" fill="#2b2a2b"/>
<rect x="1807.7" y="51.1" width="21.2" height="21.4" fill="#2b2a2b"/>
</svg></body></html>
